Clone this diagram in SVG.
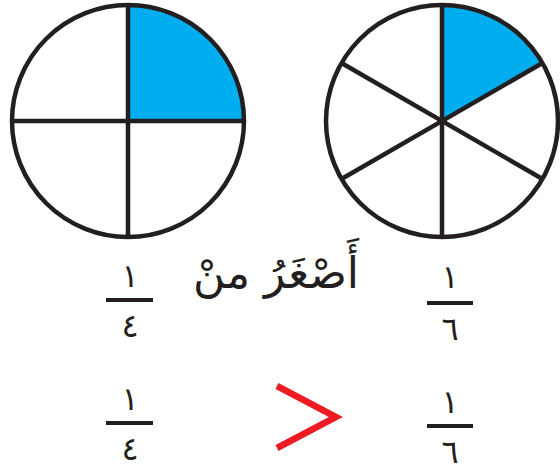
<svg xmlns="http://www.w3.org/2000/svg" width="560" height="471" viewBox="0 0 560 471">
<style>
.ln{stroke:#231f20;stroke-width:4.5;fill:none;stroke-linecap:butt}
.blue{fill:#00aeef}
.dg{font-family:"DejaVu Sans",sans-serif;font-size:32px;fill:#231f20;text-anchor:middle}
.ar{font-family:"DejaVu Sans",sans-serif;font-size:44px;fill:#231f20;text-anchor:middle}
.bar{stroke:#231f20;stroke-width:4}
</style>
<rect width="560" height="471" fill="#fff"/>
<g id="quarters">
<path class="blue" d="M128,121 L128,5 A116,116 0 0 1 244,121 Z"/>
<circle class="ln" cx="128" cy="121" r="116"/>
<line class="ln" x1="128" y1="5" x2="128" y2="237"/>
<line class="ln" x1="12" y1="121" x2="244" y2="121"/>
</g>
<g id="sixths">
<path class="blue" d="M442,121 L442,5 A116,116 0 0 1 542.5,63 Z"/>
<circle class="ln" cx="442" cy="121" r="116"/>
<line class="ln" x1="442" y1="5" x2="442" y2="237"/>
<line class="ln" x1="341.5" y1="63" x2="542.5" y2="179"/>
<line class="ln" x1="341.5" y1="179" x2="542.5" y2="63"/>
</g>
<g id="row1">
<text class="dg" x="130" y="287">١</text>
<line class="bar" x1="106" y1="300" x2="153" y2="300"/>
<text class="dg" x="130" y="337">٤</text>
<text class="ar" x="276" y="288">أَصْغَرُ منْ</text>
<text class="dg" x="450" y="288">١</text>
<line class="bar" x1="427" y1="303" x2="473" y2="303"/>
<text class="dg" x="450" y="340">٦</text>
</g>
<g id="row2">
<text class="dg" x="130" y="410">١</text>
<line class="bar" x1="106" y1="423" x2="153" y2="423"/>
<text class="dg" x="130" y="460">٤</text>
<polyline points="277,386 336,417 277,448" fill="none" stroke="#ed1c24" stroke-width="6.5" stroke-linejoin="miter"/>
<text class="dg" x="450" y="413">١</text>
<line class="bar" x1="427" y1="426" x2="473" y2="426"/>
<text class="dg" x="450" y="463">٦</text>
</g>
</svg>
